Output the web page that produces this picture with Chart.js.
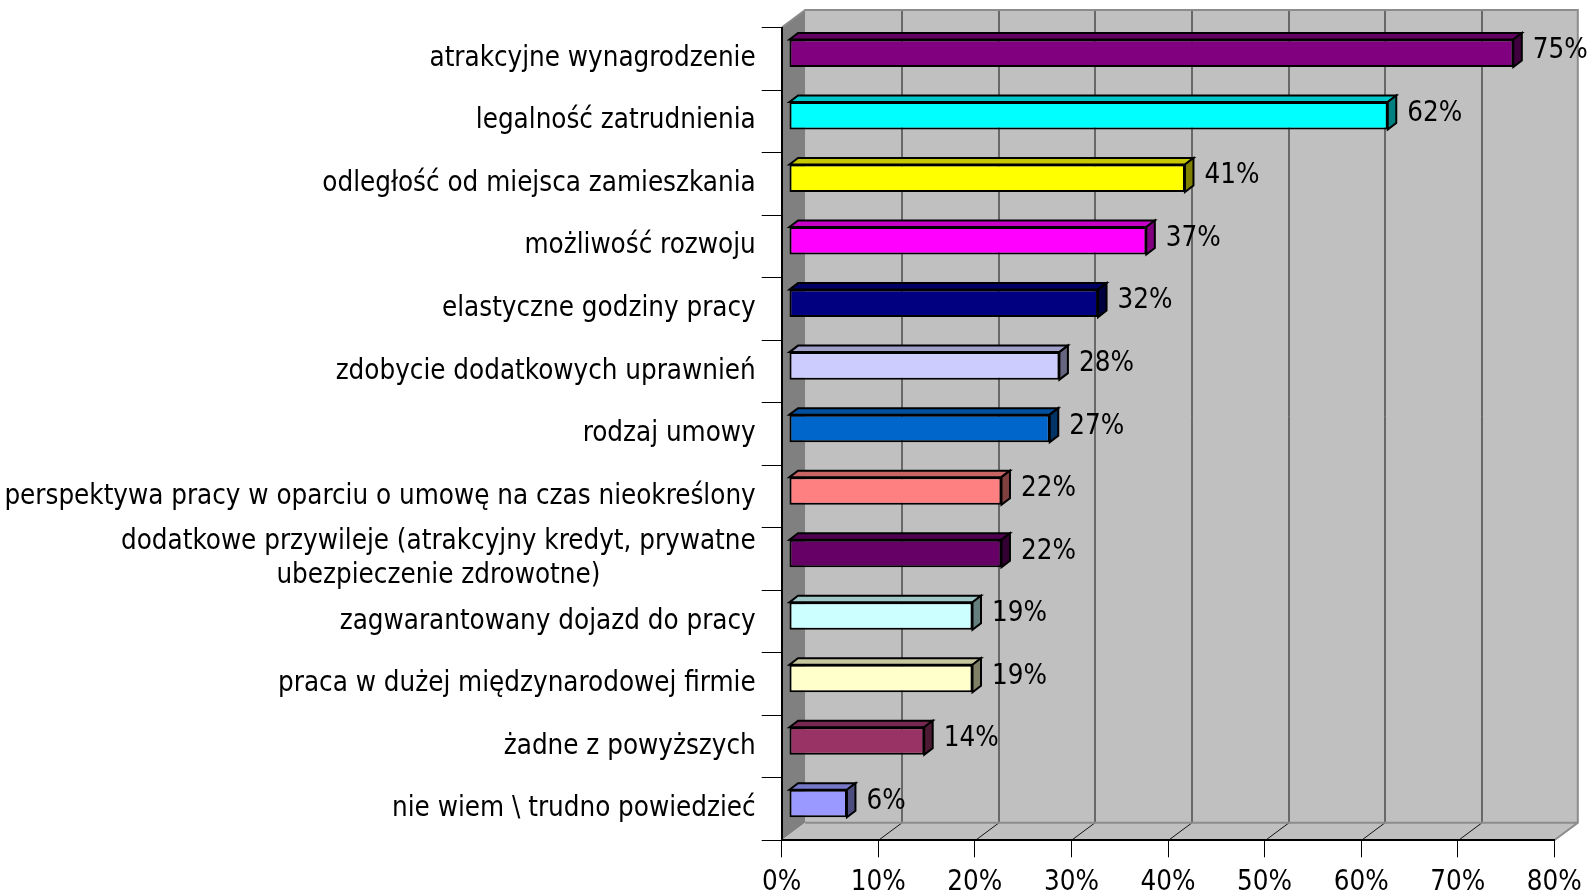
<!DOCTYPE html>
<html>
<head>
<meta charset="utf-8">
<script src="https://cdn.jsdelivr.net/npm/chart.js@4/dist/chart.umd.min.js"></script>
<style>
  html, body { margin: 0; padding: 0; background: #fff; }
  #wrap { width: 1593px; height: 896px; position: relative; }
</style>
</head>
<body>
<div id="wrap"><canvas id="bar-3d"></canvas></div>
<script>
var labels = [
    "atrakcyjne wynagrodzenie",
    "legalność zatrudnienia",
    "odległość od miejsca zamieszkania",
    "możliwość rozwoju",
    "elastyczne godziny pracy",
    "zdobycie dodatkowych uprawnień",
    "rodzaj umowy",
    "perspektywa pracy w oparciu o umowę na czas nieokreślony",
    ["dodatkowe przywileje (atrakcyjny kredyt, prywatne", "ubezpieczenie zdrowotne)"],
    "zagwarantowany dojazd do pracy",
    "praca w dużej międzynarodowej firmie",
    "żadne z powyższych",
    "nie wiem \\ trudno powiedzieć"
];
var values = [75, 62, 41, 37, 32, 28, 27, 22, 22, 19, 19, 14, 6];
var colors = ["#800080", "#00FFFF", "#FFFF00", "#FF00FF", "#000080", "#CCCCFF", "#0066CC",
              "#FF8080", "#660066", "#CCFFFF", "#FFFFCC", "#993366", "#9999FF"];

var FONT = "'DejaVu Sans Condensed', 'DejaVu Sans', sans-serif";
var FSIZE = 27.5;
var WALL_DX = 23.5, WALL_DY = -17.5;   // depth of the floor / walls
var BAR_X = 7.3, BAR_Y = -5.5;         // bars sit a bit behind the front plane
var DEP_X = 8.5, DEP_Y = -6.5;         // bar depth

function shade(hex, f) {
    var n = parseInt(hex.slice(1), 16);
    var r = Math.round(((n >> 16) & 255) * f), g = Math.round(((n >> 8) & 255) * f), b = Math.round((n & 255) * f);
    return "rgb(" + r + "," + g + "," + b + ")";
}

function poly(ctx, pts, fill, stroke, lw) {
    ctx.beginPath();
    ctx.moveTo(pts[0][0], pts[0][1]);
    for (var i = 1; i < pts.length; i++) ctx.lineTo(pts[i][0], pts[i][1]);
    ctx.closePath();
    if (fill) { ctx.fillStyle = fill; ctx.fill(); }
    if (stroke) { ctx.strokeStyle = stroke; ctx.lineWidth = lw || 1; ctx.stroke(); }
}

var walls = {
    id: 'walls',
    beforeDraw: function (chart) {
        var ctx = chart.ctx, a = chart.chartArea, xs = chart.scales.x;
        var L = a.left, R = a.right, T = a.top, B = a.bottom;
        ctx.save();
        // back wall
        poly(ctx, [[L + WALL_DX, T + WALL_DY], [R + WALL_DX, T + WALL_DY], [R + WALL_DX, B + WALL_DY], [L + WALL_DX, B + WALL_DY]], "#C0C0C0");
        // side wall
        poly(ctx, [[L, T], [L + WALL_DX, T + WALL_DY], [L + WALL_DX, B + WALL_DY], [L, B]], "#808080");
        // floor
        poly(ctx, [[L, B], [L + WALL_DX, B + WALL_DY], [R + WALL_DX, B + WALL_DY], [R, B]], "#C0C0C0");
        // gridlines on floor and back wall
        ctx.strokeStyle = "#111";
        ctx.lineWidth = 1;
        for (var v = 10; v < 80; v += 10) {
            var px = Math.round(xs.getPixelForValue(v)) + 0.5;
            ctx.beginPath();
            ctx.moveTo(px, B);
            ctx.lineTo(px + WALL_DX, B + WALL_DY);
            ctx.lineTo(px + WALL_DX, T + WALL_DY);
            ctx.stroke();
        }
        // grey edges
        ctx.strokeStyle = "#8c8c8c";
        ctx.lineWidth = 2;
        ctx.beginPath();
        ctx.moveTo(L, T);
        ctx.lineTo(L + WALL_DX, T + WALL_DY);
        ctx.lineTo(R + WALL_DX, T + WALL_DY);
        ctx.lineTo(R + WALL_DX, B + WALL_DY);
        ctx.lineTo(R, B);
        ctx.moveTo(L + WALL_DX, B + WALL_DY);
        ctx.lineTo(R + WALL_DX, B + WALL_DY);
        ctx.stroke();
        ctx.restore();
    },
    beforeDatasetsDraw: function (chart) {
        chart.ctx.save();
        chart.ctx.translate(BAR_X, BAR_Y);
    },
    afterDatasetsDraw: function (chart) {
        var ctx = chart.ctx;
        var meta = chart.getDatasetMeta(0);
        meta.data.forEach(function (bar, i) {
            var p = bar.getProps(['x', 'y', 'base', 'height'], true);
            var top = p.y - p.height / 2, bot = p.y + p.height / 2;
            poly(ctx, [[p.base, top], [p.base + DEP_X, top + DEP_Y], [p.x + DEP_X, top + DEP_Y], [p.x, top]],
                 shade(colors[i], 0.78), "#000", 2);
            poly(ctx, [[p.x, top], [p.x + DEP_X, top + DEP_Y], [p.x + DEP_X, bot + DEP_Y], [p.x, bot]],
                 shade(colors[i], 0.5), "#000", 2);
            ctx.fillStyle = "#000";
            ctx.font = FSIZE + "px " + FONT;
            ctx.textAlign = "left";
            ctx.textBaseline = "middle";
            ctx.fillText(values[i] + "%", p.x + DEP_X + 11, p.y - 2);
        });
        ctx.restore();
    },
    afterDraw: function (chart) {
        var ctx = chart.ctx, ys = chart.scales.y;
        ctx.save();
        ctx.fillStyle = "#000";
        ctx.font = FSIZE + "px " + FONT;
        ctx.textAlign = "center";
        ctx.textBaseline = "middle";
        var right = chart.chartArea.left - 26, lh = 34;
        labels.forEach(function (lab, i) {
            var lines = Array.isArray(lab) ? lab : [lab];
            var w = 0;
            lines.forEach(function (s) { w = Math.max(w, ctx.measureText(s).width); });
            var cy = ys.getPixelForValue(i);
            lines.forEach(function (s, k) {
                ctx.fillText(s, right - w / 2, cy + (k - (lines.length - 1) / 2) * lh);
            });
        });
        ctx.restore();
    }
};

new Chart(document.getElementById("bar-3d"), {
    type: 'bar',
    data: {
        labels: labels,
        datasets: [
            {
                label: "",
                data: values,
                backgroundColor: colors,
                borderColor: "#000",
                borderWidth: 2,
                borderSkipped: false,
                barPercentage: 0.44,
                categoryPercentage: 1
            }
        ]
    },
    options: {
        indexAxis: 'y',
        maintainAspectRatio: false,
        responsive: true,
        animation: false,
        layout: {padding: {top: 27.5, right: 38.7, left: 0, bottom: 0}},
        plugins: {legend: {display: false}, tooltip: {enabled: false}},
        scales: {
            x: {
                min: 0,
                max: 80,
                ticks: {
                    stepSize: 10,
                    color: "#000",
                    padding: 9,
                    font: {family: FONT, size: FSIZE},
                    callback: function (v) { return v + "%"; }
                },
                grid: {drawOnChartArea: false, drawTicks: true, tickLength: 17, color: "#000", lineWidth: 1},
                border: {display: true, color: "#000", width: 2},
                afterFit: function (s) { s.height = 55.7; s.paddingLeft = 0; s.paddingRight = 0; }
            },
            y: {
                ticks: {display: false},
                grid: {drawOnChartArea: false, drawTicks: true, tickLength: 20, offset: true, color: "#000", lineWidth: 1},
                border: {display: true, color: "#000", width: 2},
                afterFit: function (s) { s.width = 781.7; s.paddingTop = 0; s.paddingBottom = 0; }
            }
        }
    },
    plugins: [walls]
});
</script>
</body>
</html>
